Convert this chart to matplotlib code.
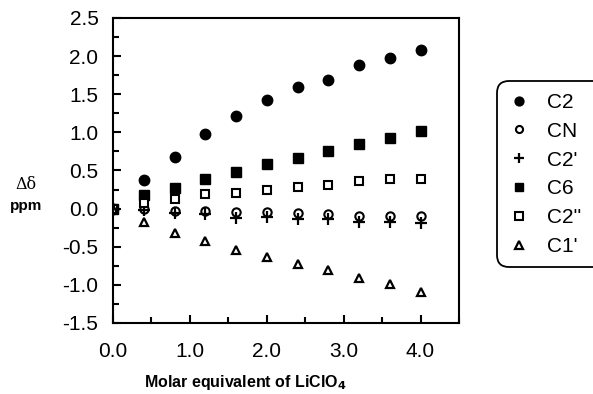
import numpy as np
import matplotlib.pyplot as plt
from matplotlib.ticker import MultipleLocator, FormatStrFormatter
from matplotlib.patches import FancyBboxPatch
from matplotlib.transforms import IdentityTransform

plt.rcParams['font.family'] = ['Liberation Sans', 'DejaVu Sans']

# molar equivalents of LiClO4
x = [0.0, 0.4, 0.8, 1.2, 1.6, 2.0, 2.4, 2.8, 3.2, 3.6, 4.0]

c2 = [0.0, 0.38, 0.68, 0.98, 1.22, 1.42, 1.59, 1.69, 1.89, 1.98, 2.08]
cn = [0.0, -0.01, -0.03, -0.03, -0.05, -0.05, -0.06, -0.075, -0.10, -0.10, -0.10]
c2p = [0.0, -0.02, -0.06, -0.07, -0.12, -0.11, -0.14, -0.14, -0.17, -0.18, -0.19]
c6 = [0.0, 0.18, 0.27, 0.39, 0.48, 0.585, 0.66, 0.755, 0.85, 0.925, 1.02]
c2pp = [0.0, 0.07, 0.12, 0.19, 0.21, 0.24, 0.29, 0.31, 0.36, 0.385, 0.385]
c1p = [0.0, -0.18, -0.32, -0.43, -0.54, -0.64, -0.72, -0.81, -0.91, -0.99, -1.09]

labels = ["C2", "CN", "C2'", "C6", "C2''", "C1'"]

W, H = 593, 394
fig = plt.figure(figsize=(W / 100, H / 100), dpi=100)
ax = fig.add_axes([113 / W, 1 - 323 / H, 346 / W, 305 / H])

h = []
h.append(ax.plot(x, c2, 'o', color='black', ms=7.5, label=labels[0])[0])
h.append(ax.plot(x, cn, 'o', mfc='white', mec='black', mew=1.5, ms=6, label=labels[1])[0])
h.append(ax.plot(x, c2p, '+', color='black', mew=1.6, ms=8, label=labels[2])[0])
h.append(ax.plot(x, c6, 's', color='black', ms=7, label=labels[3])[0])
h.append(ax.plot(x, c2pp, 's', mfc='white', mec='black', mew=1.5, ms=6, label=labels[4])[0])
h.append(ax.plot(x, c1p, '^', mfc='white', mec='black', mew=1.6, ms=6, label=labels[5])[0])

ax.set_xlim(0, 4.5)
ax.set_ylim(-1.5, 2.5)
ax.set_xticks([0, 1, 2, 3, 4])
ax.xaxis.set_minor_locator(MultipleLocator(0.5))
ax.yaxis.set_major_locator(MultipleLocator(0.5))
ax.yaxis.set_minor_locator(MultipleLocator(0.25))
ax.xaxis.set_major_formatter(FormatStrFormatter('%.1f'))
ax.yaxis.set_major_formatter(FormatStrFormatter('%.1f'))
ax.tick_params(which='both', direction='in', width=1.5, labelsize=15)
ax.tick_params(axis='x', pad=14)
ax.tick_params(axis='y', pad=10.5)
ax.tick_params(which='major', length=6)
ax.tick_params(which='minor', length=4)
for s in ax.spines.values():
    s.set_linewidth(1.5)

fig.text(245 / W, 1 - 383 / H, r"Molar equivalent of LiClO$_\mathbf{4}$",
         fontsize=11.5, fontweight='bold', ha='center', va='center')
fig.text(26 / W, 1 - 184 / H, "Δδ", fontsize=11.5, family='DejaVu Serif', ha='center', va='center')
fig.text(26 / W, 1 - 206 / H, "ppm", fontsize=11, fontweight='bold', ha='center', va='center')

# rounded legend box, running off the right edge
box = FancyBboxPatch((497, H - 267), 130, 186, boxstyle='round,pad=0,rounding_size=12',
                     transform=IdentityTransform(), fill=False, ec='black', lw=1.3,
                     clip_on=False)
fig.patches.append(box)

leg = fig.legend(handles=h, loc='upper left', bbox_to_anchor=(511 / W, 1 - 93 / H),
                 fontsize=15, frameon=False, handlelength=0.8, handletextpad=0.95,
                 labelspacing=0.47, borderpad=0, borderaxespad=0, markerscale=0.85)

fig.savefig("out.png", dpi=100)
